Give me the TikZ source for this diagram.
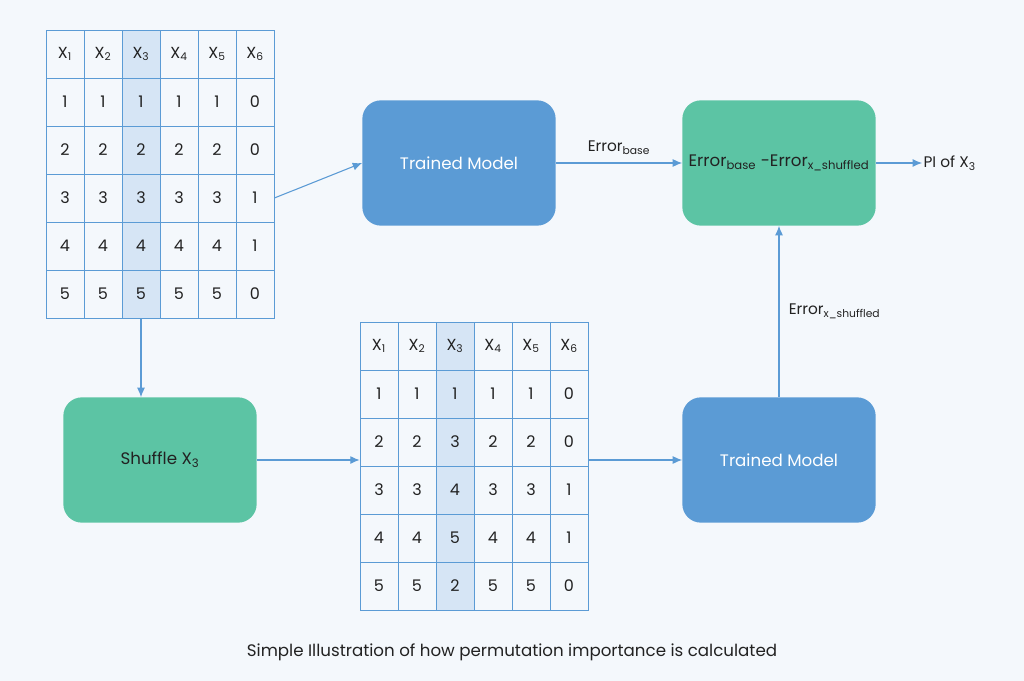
\documentclass[tikz,border=0pt]{standalone}
\usepackage{fontspec}
\setmainfont{Poppins}
\usetikzlibrary{arrows.meta}
\definecolor{bgc}{HTML}{F4F8FC}
\definecolor{gridc}{HTML}{5B9BD5}
\definecolor{hlc}{HTML}{D6E5F5}
\definecolor{bluebox}{HTML}{5B9BD5}
\definecolor{greenbox}{HTML}{5CC4A4}
\definecolor{txtc}{HTML}{222222}
\tikzset{
  cell/.style={draw=gridc, line width=0.6pt, minimum width=28.5pt, minimum height=36pt, inner sep=0pt, font=\fontsize{12}{14}\selectfont, text=txtc},
  box/.style={rounded corners=14pt, minimum width=145pt, minimum height=94pt, inner sep=0pt, text=white, font=\fontsize{12.5}{15}\selectfont},
  flow/.style={-{Latex[length=7pt,width=6pt]}, draw=gridc, line width=0.8pt},
  lbl/.style={font=\fontsize{11.5}{14}\selectfont, text=txtc, inner sep=1pt}
}
\begin{document}
\begin{tikzpicture}[x=0.75pt,y=0.75pt,yscale=-1,xscale=1]
    \fill[bgc] (0,0) rectangle (1024,681);
    \useasboundingbox (0,0) rectangle (1024,681);

    % first table
    \fill[hlc] (122,30) rectangle (160,318);
    \foreach \c in {1,...,6}
      \node[cell] (ta-0-\c) at (27+38*\c, 54) {X\textsubscript{\c}};
    \foreach \row [count=\i] in {{1,1,1,1,1,0},{2,2,2,2,2,0},{3,3,3,3,3,1},{4,4,4,4,4,1},{5,5,5,5,5,0}}
      \foreach \v [count=\c] in \row
        \node[cell] (ta-\i-\c) at (27+38*\c, 54+48*\i) {\v};

    % second table
    \fill[hlc] (436,322) rectangle (474,610);
    \foreach \c in {1,...,6}
      \node[cell] (tb-0-\c) at (341+38*\c, 346) {X\textsubscript{\c}};
    \foreach \row [count=\i] in {{1,1,1,1,1,0},{2,2,3,2,2,0},{3,3,4,3,3,1},{4,4,5,4,4,1},{5,5,2,5,5,0}}
      \foreach \v [count=\c] in \row
        \node[cell] (tb-\i-\c) at (341+38*\c, 346+48*\i) {\v};

    % boxes
    \node[box, fill=bluebox] (model1) at (459,163) {Trained Model};
    \node[box, fill=greenbox, text=txtc] (diff) at (779,163) {Error\textsubscript{base} -Error\textsubscript{x\_shuffled}};
    \node[box, fill=greenbox, text=txtc] (shuffle) at (160,460) {Shuffle X\textsubscript{3}};
    \node[box, fill=bluebox] (model2) at (779,460) {Trained Model};
    \node[lbl, anchor=west] (pi) at (922,163) {PI of X\textsubscript{3}};

    % connectors
    \draw[flow] (ta-3-6.east) -- (model1.west);
    \draw[flow] (model1) -- node[lbl, above=5pt] {Error\textsubscript{base}} (diff);
    \draw[flow] (diff) -- (pi);
    \draw[flow] (ta-5-3.south) -- (shuffle.north -| ta-5-3.south);
    \draw[flow] (shuffle.east) -- (shuffle.east -| tb-3-1.west);
    \draw[flow] (tb-3-6.east |- model2.west) -- (model2.west);
    \draw[flow] (model2) -- node[lbl, right=6pt] {Error\textsubscript{x\_shuffled}} (diff);

    % caption
    \node[font=\fontsize{12.5}{15}\selectfont, text=txtc] (caption) at (512,652) {Simple Illustration of how permutation importance is calculated};
\end{tikzpicture}
\end{document}
